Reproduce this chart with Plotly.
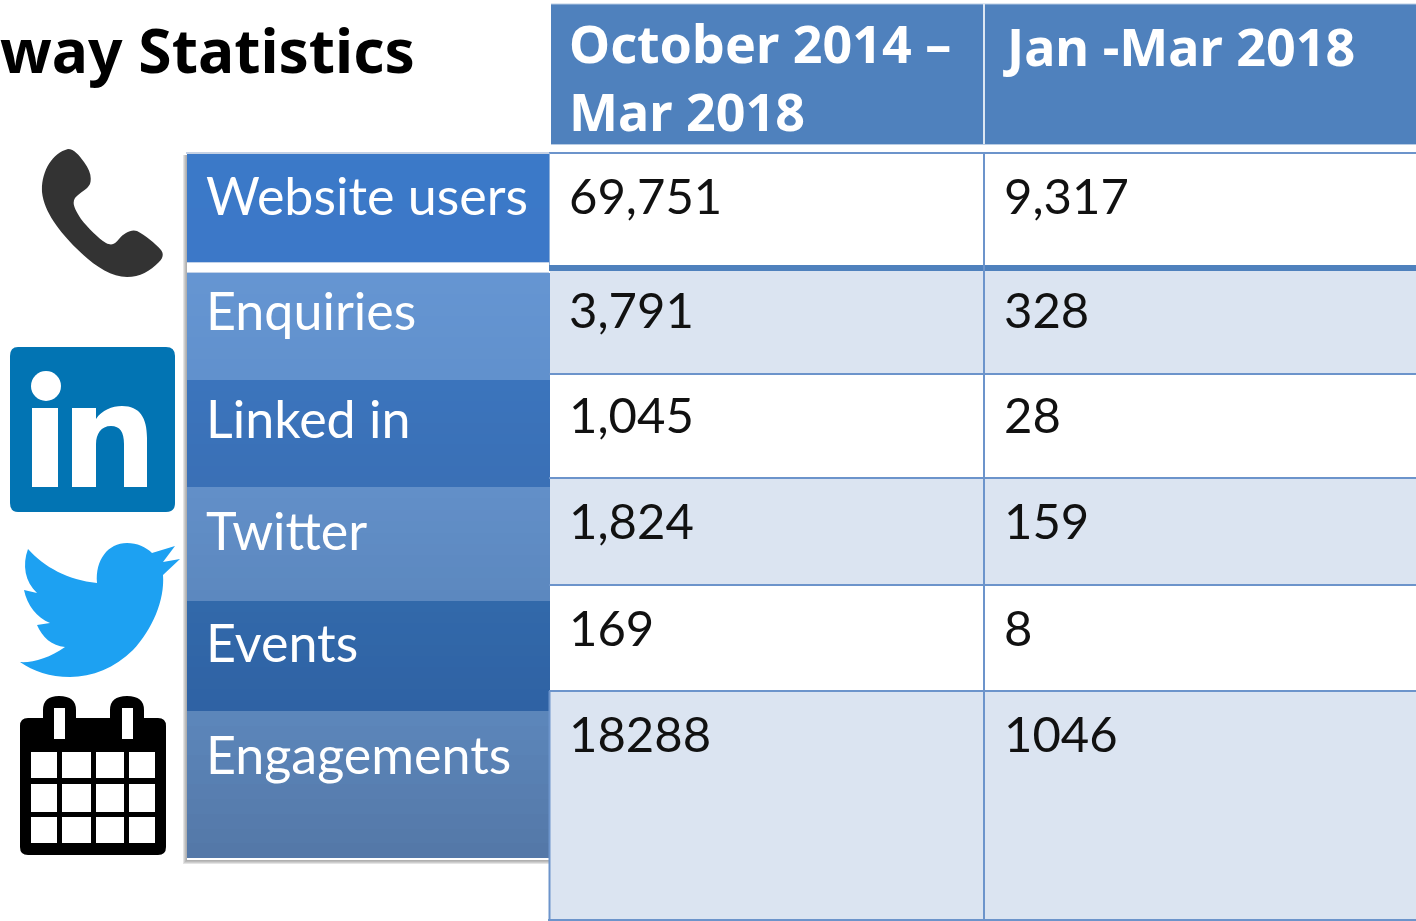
import plotly.graph_objects as go

# ---- data ----
title_text = "way Statistics"
header_labels = ["October 2014 –<br>Mar 2018", "Jan -Mar 2018"]
categories = ["Website users", "Enquiries", "Linked in", "Twitter", "Events", "Engagements"]
period_total = ["69,751", "3,791", "1,045", "1,824", "169", "18288"]
period_quarter = ["9,317", "328", "28", "159", "8", "1046"]

# ---- layout of the picture (pixel canvas) ----
W, H = 1416, 921
LEFT_ROWS = [(154, 262), (273, 380), (380, 487), (487, 601), (601, 711), (711, 858)]
LEFT_TOP = ["#3b79c8", "#6595d2", "#3b74bc", "#628fc8", "#3269aa", "#5c86ba"]
LEFT_BOT = ["#3c78c8", "#6191cd", "#3a70b6", "#5c88bf", "#2f62a4", "#5478a8"]
LABEL_Y = [195, 310, 418, 530, 642, 754]
VALUE_Y = [195, 309, 414, 520, 627, 733]
HEADER_Y = [76, 45]
RIGHT_ROWS = [(153, 265), (270, 374), (374, 478), (478, 585), (585, 691), (691, 920)]
RIGHT_FILL = ["#ffffff", "#dbe4f1", "#ffffff", "#dbe4f1", "#ffffff", "#dbe4f1"]
HEAD = "#4f81bd"
LINE = "#6c94cb"
BODY_FONT = "Lato"

shapes = []


def rect(x0, y0, x1, y1, fill, opacity=1.0):
    shapes.append(dict(type="rect", x0=x0, y0=y0, x1=x1, y1=y1, fillcolor=fill,
                       line=dict(width=0), opacity=opacity, layer="above"))


def hline(y, x0, x1, color=LINE, width=2):
    shapes.append(dict(type="line", x0=x0, x1=x1, y0=y, y1=y,
                       line=dict(color=color, width=width), layer="above"))


def vline(x, y0, y1, color=LINE, width=2):
    shapes.append(dict(type="line", x0=x, x1=x, y0=y0, y1=y1,
                       line=dict(color=color, width=width), layer="above"))


def path(d, fill):
    shapes.append(dict(type="path", path=d, fillcolor=fill, line=dict(width=0), layer="above"))


def mix(a, b, t):
    ca = [int(a[i:i + 2], 16) for i in (1, 3, 5)]
    cb = [int(b[i:i + 2], 16) for i in (1, 3, 5)]
    return "#" + "".join(f"{round(p + (q - p) * t):02x}" for p, q in zip(ca, cb))


# left panel soft shadow
for i, shade in enumerate(["#e4e4e4", "#cecece", "#bcbcbc", "#b0b0b0"]):
    rect(183 + i, 155, 187, 864 - i, shade)
    rect(183 + i, 864 - i - 1, 549, 864 - i, shade)
rect(186, 152, 549, 154, "#c5d1e4")
rect(187, 262, 549, 273, "#ffffff")

# left panel, in gradient strips (each overlaps the next, so no seams)
for (y0, y1), top, bot in zip(LEFT_ROWS, LEFT_TOP, LEFT_BOT):
    steps = 10
    for i in range(steps):
        a = round(y0 + (y1 - y0) * i / steps)
        rect(187, a, 550, y1, mix(top, bot, i / (steps - 1)))
hline(262.5, 187, 549, "#c2d2e9", 1)
hline(272.5, 187, 549, "#c2d2e9", 1)

# header cells
rect(551, 4, 1416, 144, HEAD)
hline(4, 551, 1416, "#b8cce4", 1)
hline(144.5, 551, 1416, "#b8cce4", 1)
vline(984, 4, 144, "#dce6f2", 2)

# body cells
for (y0, y1), fill in zip(RIGHT_ROWS, RIGHT_FILL):
    rect(550, y0, 1416, y1, fill)
rect(549, 265, 1416, 271, HEAD)
for y in (153, 374, 478, 585, 691):
    hline(y, 549, 1416)
hline(920, 548, 1416)
vline(984, 153, 921)
vline(549.5, 691, 921)
vline(549.5, 153, 265, "#8fb0da", 1)

# phone icon
path("M68 149 C74 149 79 155 84 162 C90 170 92 177 90 184 C87 190 80 192 75 198 "
     "C72 203 74 208 81 219 C88 228 98 238 106 243 C112 246 115 244 119 239 "
     "C124 233 131 229 137 231 C145 235 155 243 161 250 C164 254 163 258 159 262 "
     "C150 271 140 277 127 277 C110 277 92 264 76 248 C60 232 44 212 42 192 "
     "C41 172 52 153 68 149 Z", "#333333")

# LinkedIn icon
path("M18 347 L166 347 Q175 347 175 356 L175 503 Q175 512 166 512 L18 512 "
     "Q10 512 10 503 L10 356 Q10 347 18 347 Z", "#0274b3")
shapes.append(dict(type="circle", x0=31, x1=61, y0=371, y1=401, fillcolor="#ffffff",
                   line=dict(width=0), layer="above"))
rect(32, 408, 58, 487, "#ffffff")
path("M72 487 L72 408 L96 408 L96 419 C102 410 112 406 122 406 C140 406 147 418 147 438 "
     "L147 487 L124 487 L124 444 C124 432 120 426 111 426 C101 426 96 434 96 444 L96 487 Z",
     "#ffffff")

# Twitter icon
path("M97 583 C95 560 108 543 127 543 C137 543 146 547 152 553 L175 546 L163 562 L180 559 "
     "L163 575 C165 600 152 630 133 650 C115 668 92 677 70 677 C50 677 33 671 20 662 "
     "C32 663 50 658 65 647 C52 646 42 637 37 625 L50 623 C37 618 27 605 24 590 L37 593 "
     "C25 582 22 565 28 549 C44 567 68 580 97 583 Z", "#1da1f2")

# calendar icon
path("M28 718 L43 718 L43 710 Q43 696 59 696 Q76 696 76 710 L76 718 L110 718 L110 710 "
     "Q110 696 127 696 Q144 696 144 710 L144 718 L158 718 Q166 718 166 726 L166 847 "
     "Q166 855 158 855 L28 855 Q20 855 20 847 L20 726 Q20 718 28 718 Z", "#000000")
rect(54, 708, 65, 739, "#ffffff")
rect(122, 708, 133, 739, "#ffffff")
for cx0, cx1 in ((31, 57), (62, 91), (96, 124), (129, 155)):
    for cy0, cy1 in ((752, 778), (784, 812), (817, 843)):
        rect(cx0, cy0, cx1, cy1, "#ffffff")

annotations = []


def label(text, x, y, size, color, bold=False, family=BODY_FONT):
    annotations.append(dict(
        text=f"<b>{text}</b>" if bold else text, x=x, y=y, xanchor="left", yanchor="middle",
        showarrow=False, borderpad=0, borderwidth=0, align="left",
        font=dict(family=family, size=size, color=color)))


label(title_text, 0, 49, 60.5, "#000000", bold=True, family="Noto Sans")
label(header_labels[0].replace("<br>", "</b><br><b>"), 569, HEADER_Y[0], 52, "#ffffff", bold=True, family="Noto Sans")
label(header_labels[1], 1003, HEADER_Y[1], 52, "#ffffff", bold=True, family="Noto Sans")

for name, y in zip(categories, LABEL_Y):
    label(name, 206, y, 52, "#ffffff")
for val, y in zip(period_total, VALUE_Y):
    label(val, 569, y, 49, "#111111")
for val, y in zip(period_quarter, VALUE_Y):
    label(val, 1004, y, 49, "#111111")

fig = go.Figure()
fig.update_layout(
    width=W, height=H, margin=dict(l=0, r=0, t=0, b=0, pad=0),
    paper_bgcolor="#ffffff", plot_bgcolor="#ffffff", showlegend=False,
    xaxis=dict(range=[0, W], visible=False, fixedrange=True),
    yaxis=dict(range=[H, 0], visible=False, fixedrange=True),
    shapes=shapes, annotations=annotations,
)
fig.write_html("out.html", config={"displayModeBar": False},
               post_script="document.body.style.margin='0';document.body.style.overflow='hidden';")
